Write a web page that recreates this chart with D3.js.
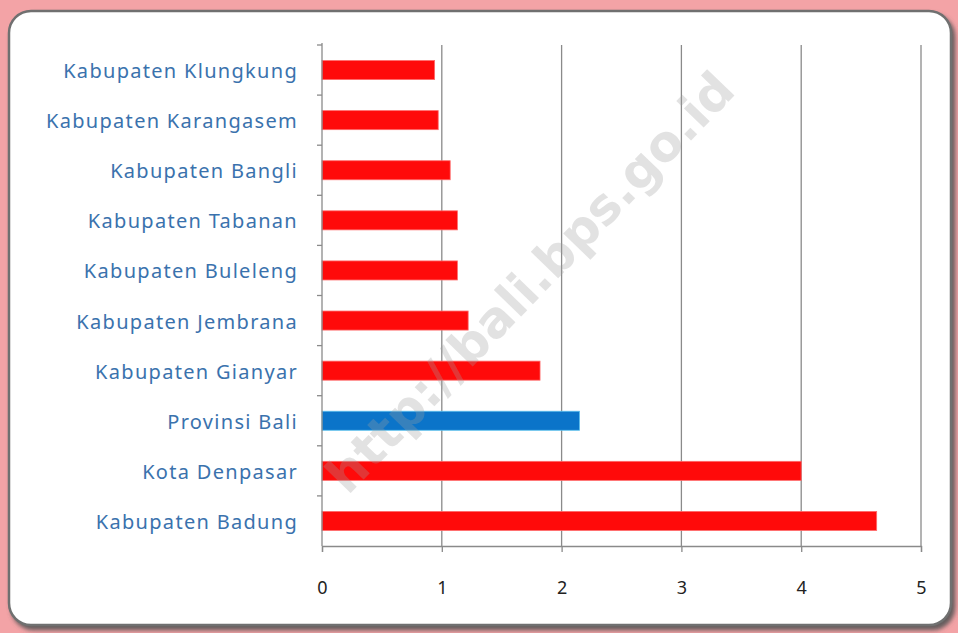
<!DOCTYPE html>
<html>
<head>
<meta charset="utf-8">
<script src="https://cdn.jsdelivr.net/npm/d3@7"></script>
<style>
  body { margin: 0; background: #f3a3a6; }
  svg { display: block; }
</style>
</head>
<body>
<div id="chart"></div>
<script>
var categories = ["Kabupaten Klungkung", "Kabupaten Karangasem", "Kabupaten Bangli", "Kabupaten Tabanan",
  "Kabupaten Buleleng", "Kabupaten Jembrana", "Kabupaten Gianyar", "Provinsi Bali",
  "Kota Denpasar", "Kabupaten Badung"];
var values = [0.94, 0.97, 1.07, 1.13, 1.13, 1.22, 1.82, 2.15, 4.0, 4.63];
var highlight = "Provinsi Bali";
var xTicks = [0, 1, 2, 3, 4, 5];

var width = 958, height = 633;

var svg = d3.select("#chart")
  .append("svg")
  .attr("width", width)
  .attr("height", height);

var defs = svg.append("defs");
var f = defs.append("filter").attr("id", "shadow")
  .attr("x", "-5%").attr("y", "-5%").attr("width", "110%").attr("height", "110%");
f.append("feDropShadow").attr("dx", 3).attr("dy", 4).attr("stdDeviation", 2)
  .attr("flood-color", "#555").attr("flood-opacity", 0.9);

// panel
svg.append("rect")
  .attr("x", 9).attr("y", 11)
  .attr("width", 942).attr("height", 614)
  .attr("rx", 22).attr("ry", 22)
  .attr("fill", "#fff")
  .attr("stroke", "#6f6f6f")
  .attr("stroke-width", 2.5)
  .attr("filter", "url(#shadow)");

var margin = { left: 322, right: 37, top: 45, bottom: 87 };

var x = d3.scaleLinear()
  .domain([0, 5])
  .range([margin.left, width - margin.right]);

var y = d3.scaleBand()
  .domain(categories)
  .range([margin.top, height - margin.bottom])
  .paddingInner(0.62)
  .paddingOuter(0.31);

var yAxisBand = d3.scaleBand()
  .domain(categories)
  .range([margin.top, height - margin.bottom]);

// grid lines
svg.append("g")
  .selectAll("line")
  .data(xTicks.slice(1))
  .enter().append("line")
  .attr("x1", function (d) { return x(d); })
  .attr("x2", function (d) { return x(d); })
  .attr("y1", margin.top)
  .attr("y2", height - margin.bottom)
  .attr("stroke", "#8a8a8a")
  .attr("stroke-width", 1.3);

// bars
svg.append("g")
  .selectAll("rect")
  .data(values)
  .enter().append("rect")
  .attr("x", x(0))
  .attr("y", function (d, i) { return y(categories[i]); })
  .attr("width", function (d) { return x(d) - x(0); })
  .attr("height", y.bandwidth())
  .attr("fill", function (d, i) { return categories[i] === highlight ? "#0b74c9" : "#ff0a0a"; })
  .attr("stroke", function (d, i) { return categories[i] === highlight ? "#5cc0ee" : "#ff6a6a"; })
  .attr("stroke-width", 0.8);

// x axis
var xAxis = svg.append("g")
  .attr("transform", "translate(0," + (height - margin.bottom) + ")")
  .call(d3.axisBottom(x).tickValues(xTicks).tickSize(6).tickPadding(29).tickFormat(d3.format("d")));
xAxis.select(".domain").attr("stroke", "#8a8a8a").attr("stroke-width", 1.3);
xAxis.selectAll(".tick line").attr("stroke", "#8a8a8a").attr("stroke-width", 1.3);
xAxis.selectAll("text")
  .attr("fill", "#222")
  .style("font-family", "'Noto Sans', sans-serif")
  .style("font-size", "18px");

// y axis line with ticks at band boundaries
var yg = svg.append("g");
yg.append("line")
  .attr("x1", x(0)).attr("x2", x(0))
  .attr("y1", margin.top - 2).attr("y2", height - margin.bottom)
  .attr("stroke", "#8a8a8a").attr("stroke-width", 1.3);
yg.selectAll("line.tk")
  .data(categories)
  .enter().append("line")
  .attr("class", "tk")
  .attr("x1", x(0) - 5).attr("x2", x(0))
  .attr("y1", function (d) { return yAxisBand(d); })
  .attr("y2", function (d) { return yAxisBand(d); })
  .attr("stroke", "#8a8a8a").attr("stroke-width", 1.3);

// category labels
yg.selectAll("text")
  .data(categories)
  .enter().append("text")
  .attr("x", x(0) - 24)
  .attr("y", function (d) { return yAxisBand(d) + yAxisBand.bandwidth() / 2 + 1; })
  .attr("dy", "0.35em")
  .attr("text-anchor", "end")
  .attr("fill", "#3a72ad")
  .style("font-family", "'Noto Sans', sans-serif")
  .style("font-size", "20px")
  .style("letter-spacing", "1.3px")
  .text(function (d) { return d; });

// watermark
svg.append("text")
  .attr("transform", "translate(530,282) rotate(-46)")
  .attr("text-anchor", "middle")
  .attr("dy", "0.35em")
  .attr("fill", "#a0a0a0")
  .attr("fill-opacity", 0.3)
  .style("font-family", "'DejaVu Sans', sans-serif")
  .style("font-weight", "bold")
  .style("font-size", "50px")
  .text("http://bali.bps.go.id");
</script>
</body>
</html>
